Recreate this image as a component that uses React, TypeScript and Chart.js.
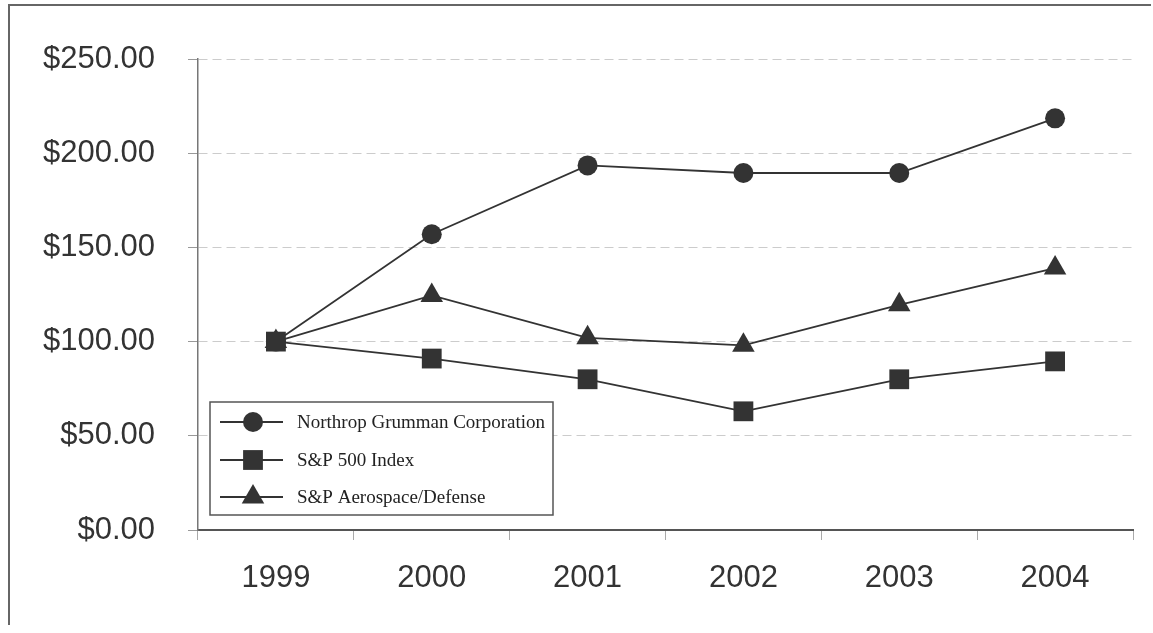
import React, { useEffect, useRef } from "react";
import { Chart, registerables } from "chart.js";

Chart.register(...registerables);

const years = ["1999", "2000", "2001", "2002", "2003", "2004"];
const northrop = [100, 157, 193.5, 189.5, 189.5, 218.5];
const sp500 = [100, 91, 80, 63, 80, 89.5];
const aerospace = [100, 124.5, 102, 98, 119.5, 139];
const seriesLabels = ["Northrop Grumman Corporation", "S&P 500 Index", "S&P Aerospace/Defense"];
const yTicks = [0, 50, 100, 150, 200, 250];

const INK = "#333333";

function drawMarker(ctx: CanvasRenderingContext2D, style: string, x: number, y: number, r: number) {
  ctx.beginPath();
  if (style === "circle") {
    ctx.arc(x, y, r, 0, Math.PI * 2);
  } else if (style === "rect") {
    const s = r * Math.SQRT1_2;
    ctx.rect(x - s, y - s, 2 * s, 2 * s);
  } else if (style === "triangle") {
    let a = -Math.PI / 2;
    ctx.moveTo(x + Math.cos(a) * r, y + Math.sin(a) * r);
    for (let i = 0; i < 2; i++) {
      a += (2 * Math.PI) / 3;
      ctx.lineTo(x + Math.cos(a) * r, y + Math.sin(a) * r);
    }
    ctx.closePath();
  }
  ctx.fill();
}

const legendPlugin = {
  id: "boxLegend",
  afterDraw(chart: any) {
    const { ctx, chartArea } = chart;
    const bx = chartArea.left + 12;
    const by = chartArea.bottom - 128;
    const bw = 343;
    const bh = 113;
    ctx.save();
    ctx.fillStyle = "#ffffff";
    ctx.fillRect(bx, by, bw, bh);
    ctx.strokeStyle = "#555555";
    ctx.lineWidth = 1.5;
    ctx.strokeRect(bx, by, bw, bh);
    const rows = [20, 58, 95];
    chart.data.datasets.forEach((ds: any, i: number) => {
      const y = by + rows[i];
      ctx.strokeStyle = INK;
      ctx.lineWidth = 1.8;
      ctx.beginPath();
      ctx.moveTo(bx + 10, y);
      ctx.lineTo(bx + 73, y);
      ctx.stroke();
      ctx.fillStyle = INK;
      drawMarker(ctx, ds.pointStyle, bx + 43, y, ds.pointRadius);
      ctx.fillStyle = "#222222";
      ctx.font = '19px "Liberation Serif", "Times New Roman", serif';
      ctx.textAlign = "left";
      ctx.textBaseline = "middle";
      ctx.fillText(ds.label, bx + 87, y + 1);
    });
    ctx.restore();
  },
};

export default function App() {
  const ref = useRef<HTMLCanvasElement | null>(null);

  useEffect(() => {
    if (!ref.current) return;
    const mk = (label: string, data: number[], style: string, r: number, order: number) => ({
      label,
      data,
      borderColor: INK,
      backgroundColor: INK,
      borderWidth: 1.8,
      pointStyle: style,
      pointRadius: r,
      pointBackgroundColor: INK,
      pointBorderColor: INK,
      pointBorderWidth: 0,
      tension: 0,
      order,
    });
    const chart = new Chart(ref.current, {
      type: "line",
      data: {
        labels: years,
        datasets: [
          mk(seriesLabels[0], northrop, "circle", 10, 2),
          mk(seriesLabels[1], sp500, "rect", 14, 0),
          mk(seriesLabels[2], aerospace, "triangle", 13, 1),
        ] as any,
      },
      options: {
        animation: false,
        responsive: false,
        layout: { padding: { top: 53, right: 18, bottom: 0, left: 0 } },
        plugins: {
          legend: { display: false },
          tooltip: { enabled: false },
        },
        scales: {
          x: {
            offset: true,
            grid: {
              offset: true,
              drawOnChartArea: false,
              drawTicks: true,
              tickLength: 10,
              tickColor: "#aaaaaa",
              tickWidth: 1,
            },
            border: { color: "#555555", width: 2 },
            ticks: {
              color: INK,
              padding: 20,
              font: { family: '"Liberation Sans", Arial, sans-serif', size: 31 },
            },
            afterFit(scale: any) {
              scale.height = 95;
            },
          },
          y: {
            min: yTicks[0],
            max: yTicks[yTicks.length - 1],
            afterBuildTicks(scale: any) {
              scale.ticks = yTicks.map((v) => ({ value: v }));
            },
            grid: {
              color: "#cccccc",
              lineWidth: 1,
              tickLength: 10,
              tickColor: "#999999",
              tickBorderDash: [],
            },
            border: { color: "#777777", width: 1.5, dash: [9, 5] },
            ticks: {
              color: INK,
              padding: 33,
              font: { family: '"Liberation Sans", Arial, sans-serif', size: 31 },
              callback: (v: any) => "$" + Number(v).toFixed(2),
            },
            afterFit(scale: any) {
              scale.width = 188;
            },
          },
        },
      },
      plugins: [legendPlugin],
    });
    return () => chart.destroy();
  }, []);

  return (
    <div
      style={{
        position: "absolute",
        left: 8,
        top: 4,
        width: 1143,
        height: 621,
        boxSizing: "border-box",
        borderTop: "2px solid #666",
        borderLeft: "2px solid #666",
        background: "#fff",
      }}
    >
      <canvas ref={ref} width={1141} height={619} style={{ display: "block" }} />
    </div>
  );
}
